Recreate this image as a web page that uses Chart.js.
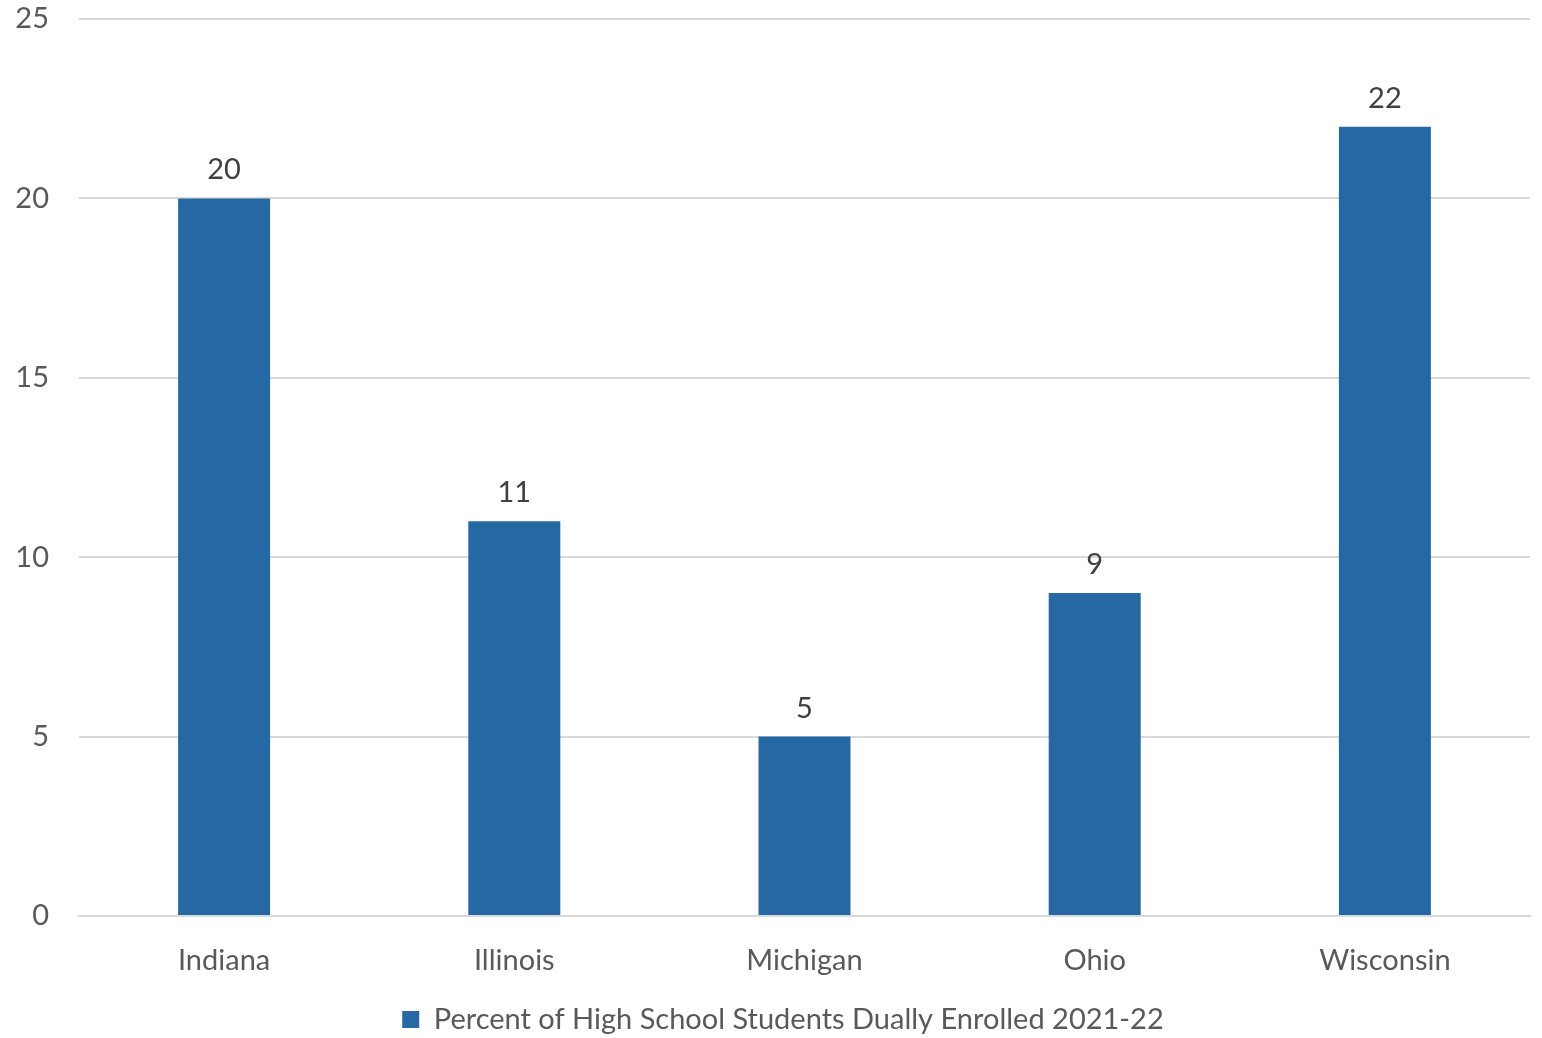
<!DOCTYPE html>
<html>
<head>
<meta charset="utf-8">
<script src="https://cdn.jsdelivr.net/npm/chart.js@4.4.1/dist/chart.umd.min.js"></script>
<style>
  html, body { margin: 0; padding: 0; background: #ffffff; }
  #wrap { width: 1542px; height: 1038px; }
</style>
</head>
<body>
<div id="wrap"><canvas id="c" width="1542" height="1038"></canvas></div>
<script>
const states = ['Indiana', 'Illinois', 'Michigan', 'Ohio', 'Wisconsin'];
const dualEnrollmentPct = [20, 11, 5, 9, 22];
const seriesLabel = 'Percent of High School Students Dually Enrolled 2021-22';
const yMin = 0, yMax = 25, yStep = 5;

const FONT = "Lato, 'Open Sans', sans-serif";
const AXIS_TEXT = '#595959';
const BAR_BLUE = '#2668A4';

// Value labels drawn just above each bar
const valueLabels = {
  id: 'valueLabels',
  afterDatasetsDraw(chart) {
    const ctx = chart.ctx;
    const meta = chart.getDatasetMeta(0);
    ctx.save();
    ctx.font = '29px ' + FONT;
    ctx.fillStyle = '#404040';
    ctx.textAlign = 'center';
    ctx.textBaseline = 'alphabetic';
    meta.data.forEach((bar, i) => {
      ctx.fillText(String(chart.data.datasets[0].data[i]), bar.x, bar.y - 19);
    });
    ctx.restore();
  }
};

// Nudge the legend box a little right and down under the axis labels
const legendOffset = {
  id: 'legendOffset',
  afterLayout(chart) {
    const lg = chart.legend;
    if (!lg) return;
    lg.left += 18; lg.right += 18;
    lg.top += 10; lg.bottom += 10;
  }
};

new Chart(document.getElementById('c'), {
  type: 'bar',
  data: {
    labels: states,
    datasets: [{
      label: seriesLabel,
      data: dualEnrollmentPct,
      backgroundColor: BAR_BLUE,
      borderWidth: 0,
      categoryPercentage: 1.0,
      barPercentage: 0.317
    }]
  },
  options: {
    responsive: false,
    animation: false,
    layout: { padding: { left: 0, right: 12, top: 19, bottom: 4 } },
    plugins: {
      tooltip: { enabled: false },
      legend: {
        position: 'bottom',
        labels: {
          color: AXIS_TEXT,
          font: { family: FONT, size: 29 },
          boxWidth: 17,
          boxHeight: 17,
          padding: 10
        }
      }
    },
    scales: {
      x: {
        grid: { display: false, drawTicks: false },
        border: { display: true, color: '#D9D9D9', width: 2 },
        ticks: {
          color: AXIS_TEXT,
          font: { family: FONT, size: 29 },
          padding: 27,
          maxRotation: 0
        },
        afterFit(scale) { scale.height = 69; }
      },
      y: {
        min: yMin,
        max: yMax,
        grid: {
          color: '#D9D9D9',
          lineWidth: 2,
          drawTicks: true,
          tickLength: 30,
          tickColor: 'rgba(0,0,0,0)'
        },
        border: { display: false },
        ticks: {
          stepSize: yStep,
          color: AXIS_TEXT,
          font: { family: FONT, size: 29 },
          padding: 0
        },
        afterFit(scale) { scale.width = 79; }
      }
    }
  },
  plugins: [valueLabels, legendOffset]
});
</script>
</body>
</html>
